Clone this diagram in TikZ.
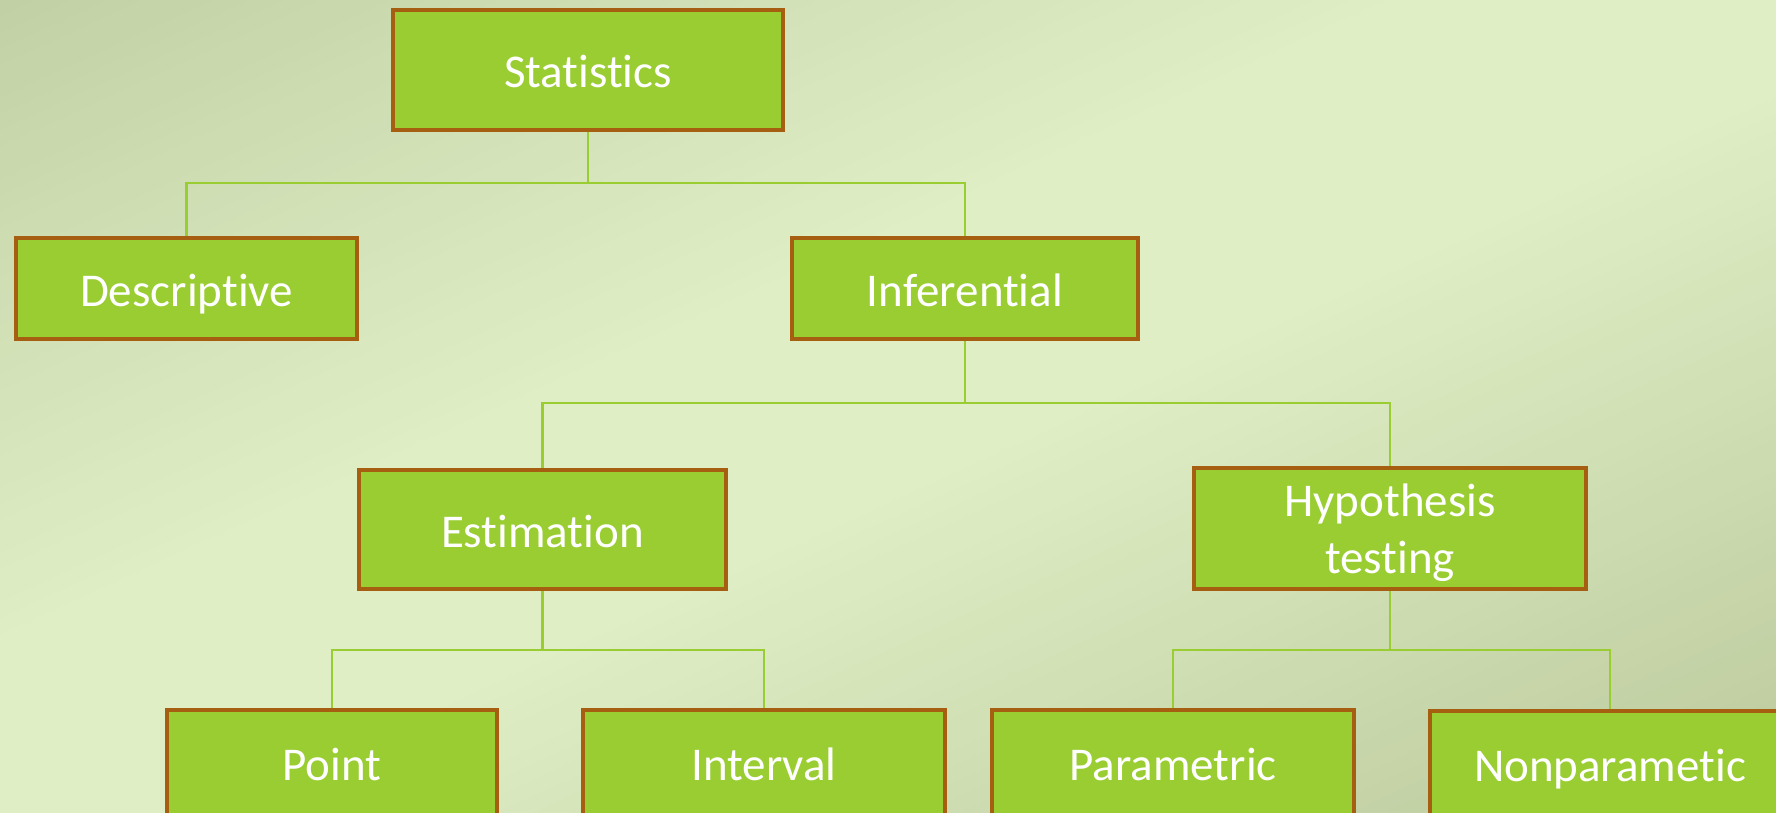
\documentclass[tikz,border=0pt]{standalone}
\usepackage{fontspec}
\setmainfont{Carlito}[Ligatures=NoCommon]
\definecolor{bgA}{HTML}{C2D1A5}
\definecolor{bgB}{HTML}{DFEEC5}
\definecolor{bgC}{HTML}{BBC99C}
\definecolor{boxfill}{HTML}{9ACD32}
\definecolor{boxedge}{HTML}{A65E10}
\definecolor{linkcol}{HTML}{9ACD32}
\begin{document}
\begin{tikzpicture}[x=1pt,y=-1pt,
  box/.style={draw=boxedge, line width=3.5pt, fill=boxfill, text=white,
    font=\fontsize{47}{57}\selectfont, inner sep=0pt, align=center},
  oneline/.style={box, text height=40pt, text depth=4pt},
  bottomrow/.style={box, text height=40pt, text depth=20pt, minimum height=120pt},
  link/.style={draw=linkcol, line width=2.5pt}]
\useasboundingbox (0,0) rectangle (1776,813);
\clip (0,0) rectangle (1776,813);
% diagonal gradient background
\foreach \i in {0,...,99} {
  \pgfmathsetmacro{\ca}{\i/50}
  \pgfmathsetmacro{\cb}{(\i+1.1)/50}
  \pgfmathsetmacro{\cm}{(\i+0.5)/50}
  \pgfmathsetmacro{\p}{\cm<0.8 ? 100*\cm/0.8 : (\cm<1.1 ? 100 : 100-100*(\cm-1.1)/0.9)}
  \ifdim\cm pt<1.1pt
    \colorlet{bandcol}{bgB!\p!bgA}
  \else
    \colorlet{bandcol}{bgB!\p!bgC}
  \fi
  \fill[bandcol] ({\ca*1776},0) -- (0,{\ca*813}) -- (0,{\cb*813}) -- ({\cb*1776},0) -- cycle;
}

\node[oneline, minimum width=390pt, minimum height=120pt] (stat) at (588,70) {Statistics};
\node[oneline, minimum width=341pt, minimum height=101pt] (desc) at (186.5,288.5) {Descriptive};
\node[oneline, minimum width=346pt, minimum height=101pt] (inf) at (965,288.5) {Inferential};
\node[oneline, minimum width=367pt, minimum height=119pt] (est) at (542.5,529.5) {Estimation};
\node[box, minimum width=392pt, minimum height=121pt] (hyp) at (1390,528.5)
  {\rule{0pt}{42pt}Hypothesis\\testing\rule[-10pt]{0pt}{10pt}};
\node[bottomrow, minimum width=330pt] (point) at (332,770) {Point};
\node[bottomrow, minimum width=362pt] (int) at (764,770) {Interval};
\node[bottomrow, minimum width=362pt] (par) at (1173,770) {Parametric};
\node[bottomrow, minimum width=360pt] (nonpar) at (1610,771) {Nonparametic};

\coordinate (bar1) at (0,183);
\coordinate (bar2) at (0,403);
\coordinate (bar3) at (0,650);

\draw[link] (stat.south) -- (stat.south |- bar1) -| (desc.north);
\draw[link] (stat.south |- bar1) -| (inf.north);
\draw[link] (inf.south) -- (inf.south |- bar2) -| (est.north);
\draw[link] (inf.south |- bar2) -| (hyp.north);
\draw[link] (est.south) -- (est.south |- bar3) -| (point.north);
\draw[link] (est.south |- bar3) -| (int.north);
\draw[link] (hyp.south) -- (hyp.south |- bar3) -| (par.north);
\draw[link] (hyp.south |- bar3) -| (nonpar.north);
\end{tikzpicture}
\end{document}
